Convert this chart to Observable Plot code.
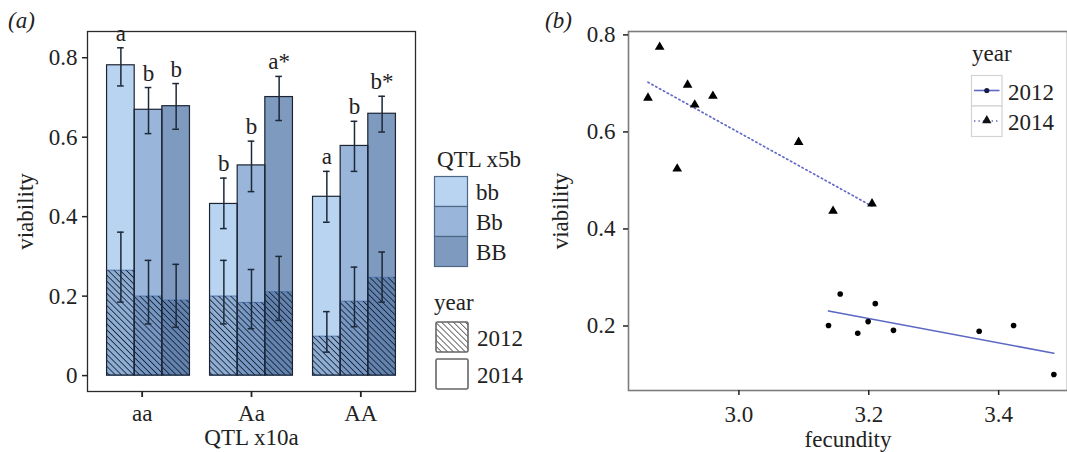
<!DOCTYPE html>
<html><head><meta charset="utf-8">
<script src="https://cdn.jsdelivr.net/npm/d3@7"></script>
<script src="https://cdn.jsdelivr.net/npm/@observablehq/plot@0.6"></script>
<style>
body{margin:0;background:#fff;}
#wrap{position:relative;width:1067px;height:452px;overflow:hidden;background:#fff;}
#wrap > svg{position:absolute;top:0;}
</style></head><body><div id="wrap"></div>
<script>
// ---------- panel (a) data ----------
const geno10 = ["aa", "Aa", "AA"];          // QTL x10a
const geno5 = ["bb", "Bb", "BB"];           // QTL x5b
const via2014 = [0.781, 0.669, 0.678, 0.432, 0.529, 0.701, 0.450, 0.578, 0.659];
const lo2014  = [0.729, 0.609, 0.620, 0.370, 0.463, 0.642, 0.386, 0.514, 0.613];
const hi2014  = [0.825, 0.725, 0.735, 0.497, 0.590, 0.753, 0.514, 0.640, 0.703];
const via2012 = [0.264, 0.199, 0.189, 0.199, 0.183, 0.210, 0.098, 0.186, 0.246];
const lo2012  = [0.185, 0.130, 0.122, 0.130, 0.118, 0.139, 0.059, 0.123, 0.185];
const hi2012  = [0.361, 0.290, 0.280, 0.290, 0.267, 0.300, 0.161, 0.273, 0.311];
const letters = ["a", "b", "b", "b", "b", "a*", "a", "b", "b*"];
const yTicksA = [0, 0.2, 0.4, 0.6, 0.8];
const years = ["2012", "2014"];
const genoColors = ["#b9d4f0", "#99b5d9", "#7f9abf"];

// ---------- panel (b) data ----------
const fec2014 = [2.860, 2.878, 2.905, 2.921, 2.932, 2.960, 3.092, 3.145, 3.205];
const vb2014  = [0.670, 0.775, 0.524, 0.697, 0.656, 0.674, 0.579, 0.437, 0.452];
const fec2012 = [3.138, 3.156, 3.183, 3.199, 3.210, 3.238, 3.370, 3.423, 3.485];
const vb2012  = [0.201, 0.266, 0.185, 0.209, 0.246, 0.191, 0.189, 0.201, 0.100];
const xTicksB = [3.0, 3.2, 3.4];
const yTicksB = [0.2, 0.4, 0.6, 0.8];

const rows = [];
geno10.forEach((g10, i) => geno5.forEach((g5, j) => {
  const k = i * 3 + j;
  rows.push({g10, g5, v14: via2014[k], lo14: lo2014[k], hi14: hi2014[k],
             v12: via2012[k], lo12: lo2012[k], hi12: hi2012[k], lab: letters[k]});
}));
const pts12 = fec2012.map((f, i) => ({f, v: vb2012[i]}));
const pts14 = fec2014.map((f, i) => ({f, v: vb2014[i]}));

const FONT = '"Liberation Serif", "Times New Roman", serif';
const FS = 23;
const style = {fontFamily: FONT, fontSize: FS + "px", color: "#222", background: "transparent", overflow: "visible"};
const wrap = document.getElementById("wrap");

const dimA = {width: 430, height: 452, marginLeft: 87, marginRight: 15, marginTop: 31, marginBottom: 61};
const yA = {domain: [-0.04, 0.866]};
const groupBand = {domain: geno10, paddingInner: 0.195, paddingOuter: 0.19, round: false};
const EB = "#1d2838";

// bars (faceted by QTL x10a)
const plotA = Plot.plot({
  ...dimA, style,
  fx: {...groupBand, axis: null},
  x: {domain: geno5, padding: 0, axis: null, round: false},
  y: {...yA, axis: null},
  color: {domain: geno5, range: genoColors},
  marks: [
    Plot.barY(rows, {fx: "g10", x: "g5", y: "v14", fill: "g5"}),
    Plot.barY(rows, {fx: "g10", x: "g5", y: "v12", fill: "g5"}),
    Plot.barY(rows, {fx: "g10", x: "g5", y: "v12", fill: "#1a4585", fillOpacity: 0.27, stroke: "#5079b0", strokeWidth: 1}),
    Plot.barY(rows, {fx: "g10", x: "g5", y: "v12", fill: "url(#hatchA)"}),
    Plot.barY(rows, {fx: "g10", x: "g5", y: "v14", fill: "none", stroke: "#1c2433", strokeWidth: 1.2}),
    Plot.ruleX(rows, {fx: "g10", x: "g5", y1: "lo14", y2: "hi14", stroke: EB, strokeWidth: 1.5}),
    Plot.ruleX(rows, {fx: "g10", x: "g5", y1: "lo12", y2: "hi12", stroke: EB, strokeWidth: 1.5}),
    Plot.tickY(rows, {fx: "g10", x: "g5", y: "lo14", insetLeft: 10.5, insetRight: 10.5, stroke: EB, strokeWidth: 1.5}),
    Plot.tickY(rows, {fx: "g10", x: "g5", y: "hi14", insetLeft: 10.5, insetRight: 10.5, stroke: EB, strokeWidth: 1.5}),
    Plot.tickY(rows, {fx: "g10", x: "g5", y: "lo12", insetLeft: 10.5, insetRight: 10.5, stroke: EB, strokeWidth: 1.5}),
    Plot.tickY(rows, {fx: "g10", x: "g5", y: "hi12", insetLeft: 10.5, insetRight: 10.5, stroke: EB, strokeWidth: 1.5}),
    Plot.text(rows, {fx: "g10", x: "g5", y: "hi14", text: "lab", lineAnchor: "bottom", dy: -7, fill: "#222"})
  ]
});
// hatch pattern
const defsA = d3.select(plotA).insert("defs", ":first-child");
const pat = defsA.append("pattern").attr("id", "hatchA").attr("patternUnits", "userSpaceOnUse")
  .attr("width", 4.3).attr("height", 4.3).attr("patternTransform", "rotate(-45)");
pat.append("line").attr("x1", 0).attr("y1", -1).attr("x2", 0).attr("y2", 6).attr("stroke", "#131a2c").attr("stroke-width", 1.6);

// frame + axes overlay for (a), same band geometry as the facets
const plotA0 = Plot.plot({
  ...dimA, style,
  x: groupBand,
  y: yA,
  marks: [
    Plot.frame({stroke: "#2a2a2a", strokeWidth: 1.3}),
    Plot.axisX({tickSize: 6, tickPadding: 7, strokeWidth: 1.8, stroke: "#222",
                label: "QTL x10a", labelAnchor: "center", labelArrow: false, labelOffset: 53}),
    Plot.axisY({ticks: yTicksA, tickFormat: d3.format("~g"), tickSize: 5, tickPadding: 5, strokeWidth: 1.5, stroke: "#222",
                label: "viability", labelAnchor: "center", labelArrow: false, labelOffset: 71})
  ]
});

// panel (b)
const plotB = Plot.plot({
  width: 527, height: 452, marginLeft: 88, marginRight: 0, marginTop: 31, marginBottom: 62,
  style,
  x: {domain: [2.83, 3.506]},
  y: {domain: [0.067, 0.807]},
  marks: [
    Plot.frame({stroke: "#7c7c7c", strokeWidth: 1.6}),
    Plot.axisX({ticks: xTicksB, tickFormat: d3.format(".1f"), tickSize: 5, tickPadding: 10, strokeWidth: 1.5, stroke: "#222",
                label: "fecundity", labelAnchor: "center", labelArrow: false, labelOffset: 56}),
    Plot.axisY({ticks: yTicksB, tickFormat: d3.format(".1f"), tickSize: 5, tickPadding: 8, strokeWidth: 1.5, stroke: "#222",
                label: "viability", labelAnchor: "center", labelArrow: false, labelOffset: 77}),
    Plot.linearRegressionY(pts12, {x: "f", y: "v", stroke: "#5c68c4", strokeWidth: 1.6, ci: 0}),
    Plot.linearRegressionY(pts14, {x: "f", y: "v", stroke: "#6269c6", strokeWidth: 1.7, strokeDasharray: "1.4,3", ci: 0}),
    Plot.dot(pts12, {x: "f", y: "v", r: 2.8, fill: "#000"}),
    Plot.dot(pts14, {x: "f", y: "v", symbol: "triangle", r: 3.6, fill: "#000"})
  ]
});

wrap.appendChild(plotA);
wrap.appendChild(plotA0);
plotA.style.left = "0px"; plotA0.style.left = "0px";
wrap.appendChild(plotB);
plotB.style.left = "540px";

// legends and panel tags
const L = d3.select(wrap).append("svg").attr("width", 1067).attr("height", 452)
  .style("left", "0px").style("pointer-events", "none")
  .attr("font-family", FONT).attr("font-size", FS).attr("fill", "#222");
const ld = L.append("defs").append("pattern").attr("id", "hatchL").attr("patternUnits", "userSpaceOnUse")
  .attr("width", 4.2).attr("height", 4.2).attr("patternTransform", "rotate(-45)");
ld.append("line").attr("x1", 0).attr("y1", -1).attr("x2", 0).attr("y2", 6).attr("stroke", "#222").attr("stroke-width", 1.3);

L.append("text").attr("x", 8).attr("y", 28).attr("font-style", "italic").text("(a)");
L.append("text").attr("x", 545).attr("y", 28).attr("font-style", "italic").text("(b)");

// QTL x5b legend
L.append("text").attr("x", 437).attr("y", 167).text("QTL x5b");
geno5.forEach((g, i) => {
  L.append("rect").attr("x", 434.5).attr("y", 176.5 + i * 30).attr("width", 33).attr("height", 30)
    .attr("fill", genoColors[i]).attr("stroke", "#4d6786").attr("stroke-width", 1.2);
  L.append("text").attr("x", 476).attr("y", 200 + i * 30).text(g);
});
// year legend (a)
L.append("text").attr("x", 434).attr("y", 310).text("year");
years.forEach((yr, i) => {
  const y0 = 322 + i * 37;
  L.append("rect").attr("x", 436).attr("y", y0).attr("width", 32).attr("height", 30)
    .attr("fill", i === 0 ? "url(#hatchL)" : "#fff").attr("stroke", "#666").attr("stroke-width", 1.6).attr("rx", 1.5);
  L.append("text").attr("x", 477).attr("y", y0 + 24).text(yr);
});

// year legend (b)
L.append("text").attr("x", 972).attr("y", 61).text("year");
years.forEach((yr, i) => {
  const y0 = 75.5 + i * 30.5;
  L.append("rect").attr("x", 971.5).attr("y", y0).attr("width", 30.5).attr("height", 30.5)
    .attr("fill", "#fff").attr("stroke", "#d3d3d3").attr("stroke-width", 1.2);
  L.append("line").attr("x1", 974).attr("x2", 999.5).attr("y1", y0 + 15).attr("y2", y0 + 15)
    .attr("stroke", "#5c68c4").attr("stroke-width", 1.6).attr("stroke-dasharray", i === 0 ? null : "1.4,3");
  if (i === 0) L.append("circle").attr("cx", 986.8).attr("cy", y0 + 15).attr("r", 2.6).attr("fill", "#1a1a4a");
  else L.append("path").attr("d", d3.symbol(d3.symbolTriangle, 38)()).attr("transform", `translate(986.8,${y0 + 14.5})`).attr("fill", "#111");
  L.append("text").attr("x", 1008).attr("y", y0 + 24).text(yr);
});
</script></body></html>
